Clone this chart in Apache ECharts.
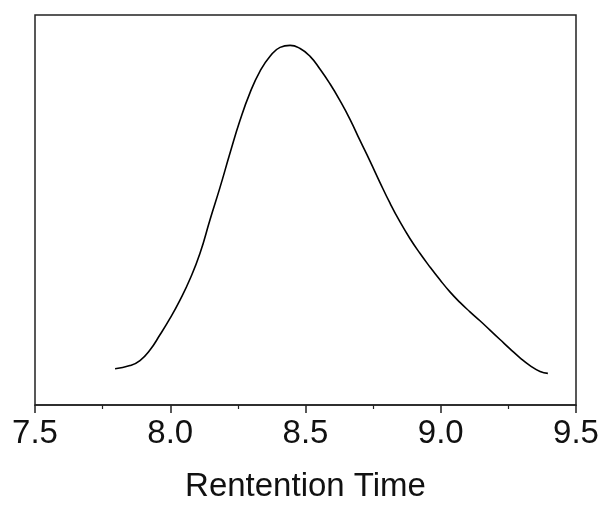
<!DOCTYPE html>
<html>
<head>
<meta charset="utf-8">
<script src="https://cdn.jsdelivr.net/npm/echarts@6/dist/echarts.min.js"></script>
<style>html,body{margin:0;padding:0;background:#fff;}#c{width:603px;height:508px;}</style>
</head>
<body>
<div id="c"></div>
<script>
const retentionTime = [7.796,7.851,7.888,7.925,7.962,7.999,8.036,8.073,8.110,8.147,8.184,8.221,8.258,8.295,8.332,8.369,8.406,8.443,8.480,8.517,8.554,8.591,8.628,8.665,8.701,8.738,8.775,8.812,8.849,8.886,8.923,8.960,8.997,9.034,9.071,9.108,9.145,9.182,9.219,9.256,9.293,9.330,9.367,9.396];
const intensity = [9.3,10.1,11.4,14.1,18.0,22.2,26.9,32.3,38.9,47.5,55.8,64.6,73.0,80.1,85.6,89.4,91.7,92.2,91.4,89.4,86.1,82.3,78.0,73.2,67.9,62.6,57.1,51.8,47.0,42.7,38.9,35.4,32.1,29.0,26.3,23.9,21.6,19.2,16.8,14.4,12.1,10.1,8.6,8.1];
const xTicks = [7.5, 8.0, 8.5, 9.0, 9.5];

const chart = echarts.init(document.getElementById('c'), null, {renderer: 'canvas'});
chart.setOption({
  animation: false,
  backgroundColor: '#fff',
  grid: {left: 35, right: 27, top: 15, bottom: 96, show: true, borderColor: '#222', borderWidth: 1.5, backgroundColor: 'transparent'},
  xAxis: {
    type: 'value', min: xTicks[0], max: xTicks[xTicks.length - 1], interval: 0.5,
    name: 'Rentention Time', nameLocation: 'middle', nameGap: 65,
    nameTextStyle: {fontSize: 33, color: '#111', fontFamily: 'Liberation Sans, Arial, sans-serif'},
    axisLine: {show: true, lineStyle: {color: '#222', width: 1.5}},
    axisTick: {show: true, inside: false, length: 8, lineStyle: {color: '#222', width: 1.5}},
    minorTick: {show: true, splitNumber: 2, length: 4, lineStyle: {color: '#222', width: 1.2}},
    splitLine: {show: false},
    axisLabel: {fontSize: 33, color: '#111', margin: 12, fontFamily: 'Liberation Sans, Arial, sans-serif',
      formatter: v => v.toFixed(1)}
  },
  yAxis: {
    type: 'value', min: 0, max: 100,
    axisLine: {show: false}, axisTick: {show: false}, axisLabel: {show: false}, splitLine: {show: false}
  },
  series: [{
    type: 'line',
    data: retentionTime.map((x, i) => [x, intensity[i]]),
    smooth: true, showSymbol: false,
    lineStyle: {color: '#000', width: 1.6}
  }]
});
</script>
</body>
</html>
